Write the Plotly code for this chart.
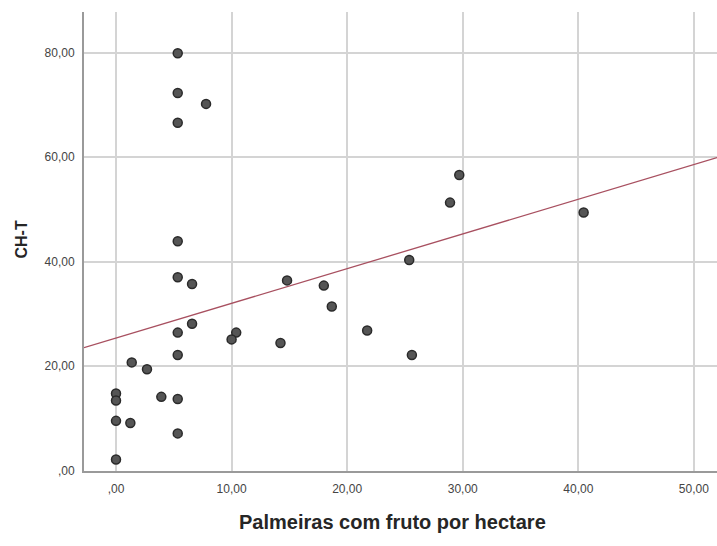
import plotly.graph_objects as go

# Palm trees bearing fruit per hectare vs. CH-T
palmeiras = [5.34, 5.34, 7.79, 5.34, 29.7, 28.9, 40.46, 5.34, 5.34, 6.58,
             14.8, 17.98, 25.37, 18.67, 6.58, 5.34, 10.4, 10.0, 21.73, 14.23,
             25.6, 5.34, 1.36, 2.68, 0.0, 0.0, 3.92, 5.34, 0.0, 1.24,
             5.34, 0.0]
ch_t = [79.9, 72.3, 70.2, 66.6, 56.6, 51.3, 49.4, 43.9, 37.0, 35.7,
        36.4, 35.4, 40.3, 31.4, 28.1, 26.4, 26.4, 25.1, 26.8, 24.4,
        22.1, 22.1, 20.7, 19.4, 14.75, 13.4, 14.1, 13.7, 9.5, 9.1,
        7.1, 2.1]

# Linear fit line (intercept, slope)
fit_intercept = 25.35
fit_slope = 0.665

x_ticks = [0, 10, 20, 30, 40, 50]
x_ticktext = [",00", "10,00", "20,00", "30,00", "40,00", "50,00"]
y_ticks = [0, 20, 40, 60, 80]
y_ticktext = [",00", "20,00", "40,00", "60,00", "80,00"]

x_range = [-2.77, 52.0]
y_range = [-0.1, 87.8]

fig = go.Figure()

fig.add_trace(go.Scatter(
    x=x_range,
    y=[fit_intercept + fit_slope * v for v in x_range],
    mode="lines",
    line=dict(color="#a85060", width=1.3),
    hoverinfo="skip",
    showlegend=False,
))

fig.add_trace(go.Scatter(
    x=palmeiras, y=ch_t,
    mode="markers",
    marker=dict(size=9, color="#555555", line=dict(color="#2a2a2a", width=1.5)),
    showlegend=False,
))

axis_font = dict(family="Liberation Sans, Arial, sans-serif", size=12, color="#444444")

fig.update_xaxes(
    range=x_range, tickvals=x_ticks, ticktext=x_ticktext,
    showgrid=True, gridcolor="#d4d4d4", gridwidth=1.5,
    showline=True, linecolor="#9a9a9a", linewidth=2,
    zeroline=False, ticks="", tickfont=axis_font, ticklabelstandoff=6,
)
fig.update_yaxes(
    range=y_range, tickvals=y_ticks, ticktext=y_ticktext,
    showgrid=True, gridcolor="#d4d4d4", gridwidth=1.5,
    showline=True, linecolor="#9a9a9a", linewidth=2,
    zeroline=False, ticks="", tickfont=axis_font, ticklabelstandoff=5,
)

fig.add_annotation(
    text="<b>Palmeiras com fruto por hectare</b>",
    xref="paper", yref="paper", x=(392 - 84) / 633, y=-(521.5 - 471) / 459,
    xanchor="center", yanchor="middle", showarrow=False,
    font=dict(family="Liberation Sans, Arial, sans-serif", size=20, color="#262626"),
)
fig.add_annotation(
    text="<b>CH-T</b>",
    xref="paper", yref="paper", x=-(84 - 21) / 633, y=(471 - 239.5) / 459,
    xanchor="center", yanchor="middle", textangle=-90, showarrow=False,
    font=dict(family="Liberation Sans, Arial, sans-serif", size=16, color="#262626"),
)

fig.update_layout(
    width=717, height=546,
    margin=dict(l=84, r=0, t=12, b=75),
    plot_bgcolor="white", paper_bgcolor="white",
)

fig.write_html("out.html")
